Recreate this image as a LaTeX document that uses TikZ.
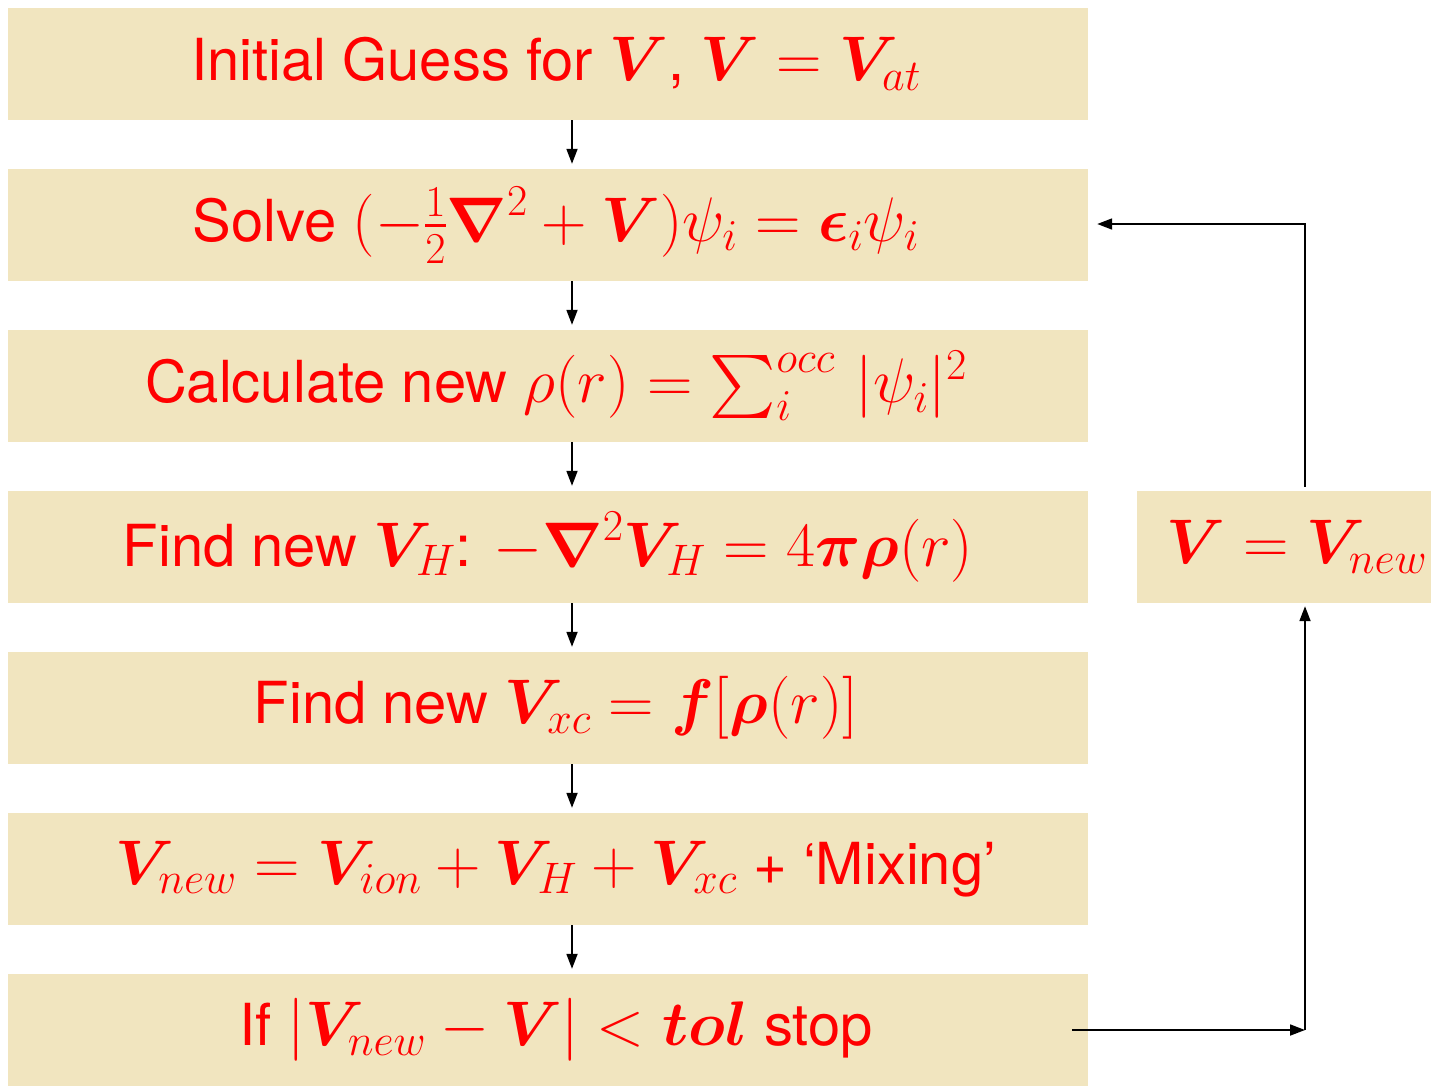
\RequirePackage{fix-cm}
\documentclass[tikz,border=0pt]{standalone}
\usepackage{amsmath}
\usepackage{fontspec}
\setmainfont{TeX Gyre Heros}[Scale=0.92]
\DeclareFontShape{OMX}{cmex}{m}{n}{<->cmex10}{}
\DeclareFontShape{OMX}{cmex}{b}{n}{<->cmex10}{}
\usetikzlibrary{arrows.meta,calc}
\definecolor{boxfill}{HTML}{F1E5BF}
\DeclareMathAlphabet{\mathbi}{OML}{cmm}{b}{it}
\newcommand{\bs}[1]{\boldsymbol{#1}}
\begin{document}
\begin{tikzpicture}[x=1pt,y=-1pt,
  box/.style={fill=boxfill, minimum width=1080pt, minimum height=112pt, inner sep=0pt, text=red, font=\fontsize{63}{72}\selectfont},
  rbox/.style={box, minimum width=294pt},
  arr/.style={-{Triangle[length=15pt,width=11pt]}, line width=1.8pt}]
\useasboundingbox (0,0) rectangle (1431,1085);
\node[box] (b1) at (548,64) {\hspace*{16pt}Initial Guess for $\mathbi V$, $\mathbi V=\mathbi V_{at}$};
\node[box] (b2) at (548,225) {\hspace*{16pt}Solve $(-\frac{1}{2}\bs\nabla^2+\mathbi V)\psi_i=\bs\epsilon_i\psi_i$};
\node[box] (b3) at (548,386) {\hspace*{16pt}Calculate new $\rho(r)=\sum_i^{occ}\,|\psi_i|^2$};
\node[box] (b4) at (548,547) {Find new $\mathbi V_H$: $-\bs\nabla^2\mathbi V_H=4\bs\pi\bs\rho(r)$};
\node[box] (b5) at (548,708) {\hspace*{16pt}Find new $\mathbi V_{xc}=\mathbi f[\bs\rho(r)]$};
\node[box] (b6) at (548,869) {\hspace*{16pt}$\mathbi V_{new}=\mathbi V_{ion}+\mathbi V_H+\mathbi V_{xc}$ + `Mixing'};
\node[box] (b7) at (548,1030) {\hspace*{16pt}If $|\mathbi V_{new}-\mathbi V|<\mathbi{tol}$ stop};
\node[rbox] (vb) at (1284,547) {\hspace*{26pt}$\mathbi V=\mathbi V_{new}$};
\coordinate (lx) at (1305,0);
\foreach \a/\b in {b1/b2,b2/b3,b3/b4,b4/b5,b5/b6,b6/b7}
  \draw[arr] ($(\a.south)+(24,0)$) -- ($(\b.north)+(24,-5)$);
\draw[arr] ($(b7.east)+(-16,0)$) -- (b7.east -| lx);
\draw[arr] (b7.east -| lx) -- ($(vb.south -| lx)+(0,3)$);
\draw[arr] ($(vb.north -| lx)+(0,-4)$) |- ($(b2.east)+(9,-1)$);
\end{tikzpicture}
\end{document}
